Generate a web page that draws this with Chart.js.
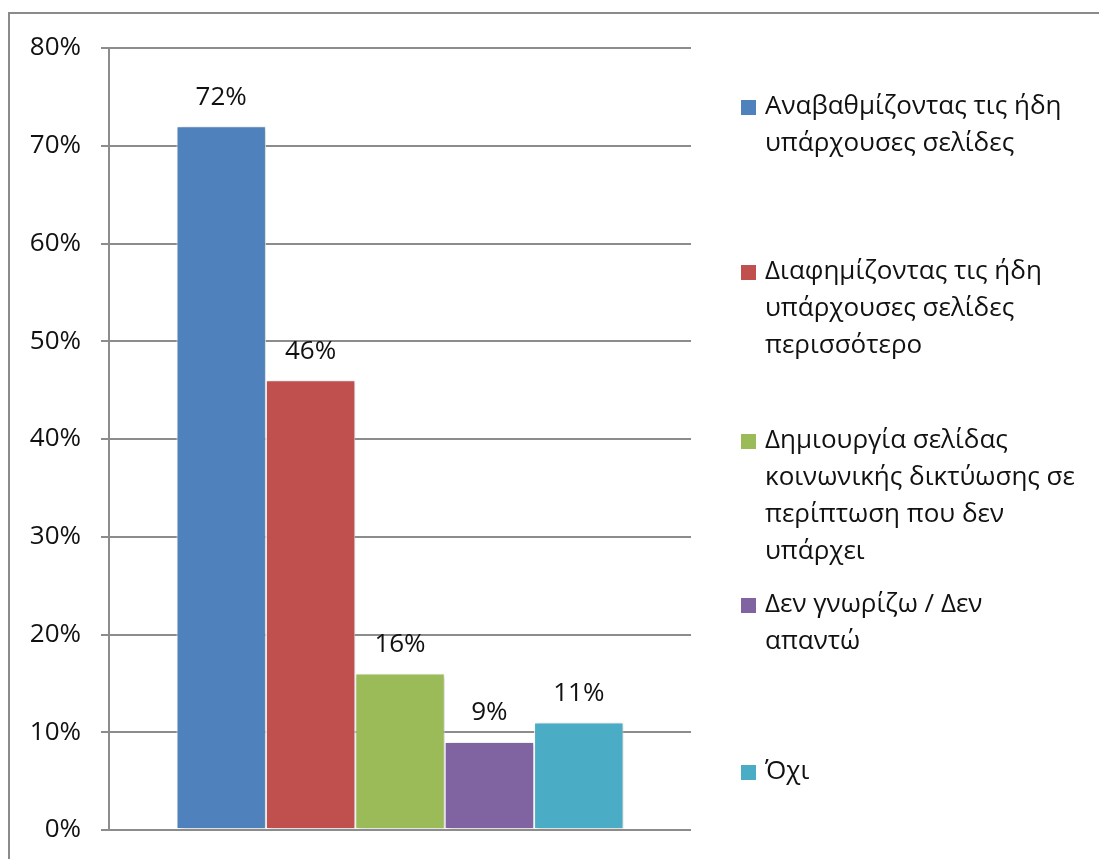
<!DOCTYPE html>
<html>
<head>
<meta charset="utf-8">
<script src="https://cdn.jsdelivr.net/npm/chart.js@4/dist/chart.umd.min.js"></script>
<style>
  html, body { margin: 0; padding: 0; background: #fff; overflow: hidden; }
  #wrap { position: relative; width: 1099px; height: 859px; }
  #frame { position: absolute; left: 8px; top: 12px; width: 1200px; height: 1000px;
           border: 2px solid #8a8a8a; box-sizing: border-box; pointer-events: none; }
  canvas { position: absolute; left: 0; top: 0; }
</style>
</head>
<body>
<div id="wrap">
  <canvas id="chart" width="1099" height="859"></canvas>
  <div id="frame"></div>
</div>
<script>
// Survey answers (percent of respondents)
const categories = [''];
const seriesNames = [
  ['Αναβαθμίζοντας τις ήδη', 'υπάρχουσες σελίδες'],
  ['Διαφημίζοντας τις ήδη', 'υπάρχουσες σελίδες', 'περισσότερο'],
  ['Δημιουργία σελίδας', 'κοινωνικής δικτύωσης σε', 'περίπτωση που δεν', 'υπάρχει'],
  ['Δεν γνωρίζω / Δεν', 'απαντώ'],
  ['Όχι']
];
const seriesValues = [72, 46, 16, 9, 11];
const seriesColors = ['#4F81BD', '#C0504D', '#9BBB59', '#8064A2', '#4BACC6'];
const yTicks = [0, 10, 20, 30, 40, 50, 60, 70, 80];

const FONT = "'Open Sans', 'Noto Sans', 'DejaVu Sans', sans-serif";
const FONT_SIZE = 26;
const TEXT_COLOR = '#111111';

// Legend first-line centres and line height (right-hand panel)
const legendX = 741;
const legendTextX = 765;
const legendLineTops = [107, 272, 441, 605, 772];
const legendLineHeight = 37;

const datasets = seriesValues.map((v, i) => ({
  label: seriesNames[i].join(' '),
  data: [v],
  backgroundColor: seriesColors[i],
  borderColor: '#ffffff',
  borderWidth: 1,
  borderSkipped: false,
  barPercentage: 1.0,
  categoryPercentage: 0.768
}));

// Soft drop shadow under the bars
const barShadow = {
  id: 'barShadow',
  beforeDatasetsDraw(chart) {
    const ctx = chart.ctx;
    ctx.save();
    ctx.shadowColor = 'rgba(0,0,0,0.22)';
    ctx.shadowBlur = 5;
    ctx.shadowOffsetX = 2;
    ctx.shadowOffsetY = 1;
  },
  afterDatasetsDraw(chart) {
    chart.ctx.restore();
  }
};

// Percentage label above each bar
const valueLabels = {
  id: 'valueLabels',
  afterDatasetsDraw(chart) {
    const ctx = chart.ctx;
    ctx.save();
    ctx.font = FONT_SIZE + 'px ' + FONT;
    ctx.fillStyle = TEXT_COLOR;
    ctx.textAlign = 'center';
    ctx.textBaseline = 'middle';
    chart.data.datasets.forEach((ds, i) => {
      const el = chart.getDatasetMeta(i).data[0];
      ctx.fillText(ds.data[0] + '%', el.x, el.y - 29);
    });
    ctx.restore();
  }
};

// Multi-line legend on the right
const sideLegend = {
  id: 'sideLegend',
  afterDraw(chart) {
    const ctx = chart.ctx;
    ctx.save();
    ctx.font = FONT_SIZE + 'px ' + FONT;
    ctx.textAlign = 'left';
    ctx.textBaseline = 'middle';
    seriesNames.forEach((lines, i) => {
      const y0 = legendLineTops[i];
      ctx.fillStyle = seriesColors[i];
      ctx.fillRect(legendX, y0 - 7, 15, 15);
      ctx.fillStyle = TEXT_COLOR;
      lines.forEach((t, j) => ctx.fillText(t, legendTextX, y0 + j * legendLineHeight));
    });
    ctx.restore();
  }
};

new Chart(document.getElementById('chart'), {
  type: 'bar',
  data: { labels: categories, datasets },
  options: {
    responsive: false,
    animation: false,
    layout: { padding: { left: 0, top: 48, right: 408, bottom: 29 } },
    plugins: { legend: { display: false }, tooltip: { enabled: false } },
    scales: {
      x: { display: false },
      y: {
        min: 0, max: 80,
        afterFit(scale) {
          scale.width = 109;
          // let the layout padding alone decide the plot's vertical extent
          scale.paddingTop = 0;
          scale.paddingBottom = 0;
        },
        afterBuildTicks(scale) { scale.ticks = yTicks.map(v => ({ value: v })); },
        ticks: {
          padding: 20,
          color: TEXT_COLOR,
          font: { family: FONT, size: FONT_SIZE },
          callback: v => v + '%'
        },
        grid: { color: '#8c8c8c', lineWidth: 2, tickLength: 8, drawTicks: true },
        border: { color: '#8c8c8c', width: 2 }
      }
    }
  },
  plugins: [barShadow, valueLabels, sideLegend]
});
</script>
</body>
</html>
